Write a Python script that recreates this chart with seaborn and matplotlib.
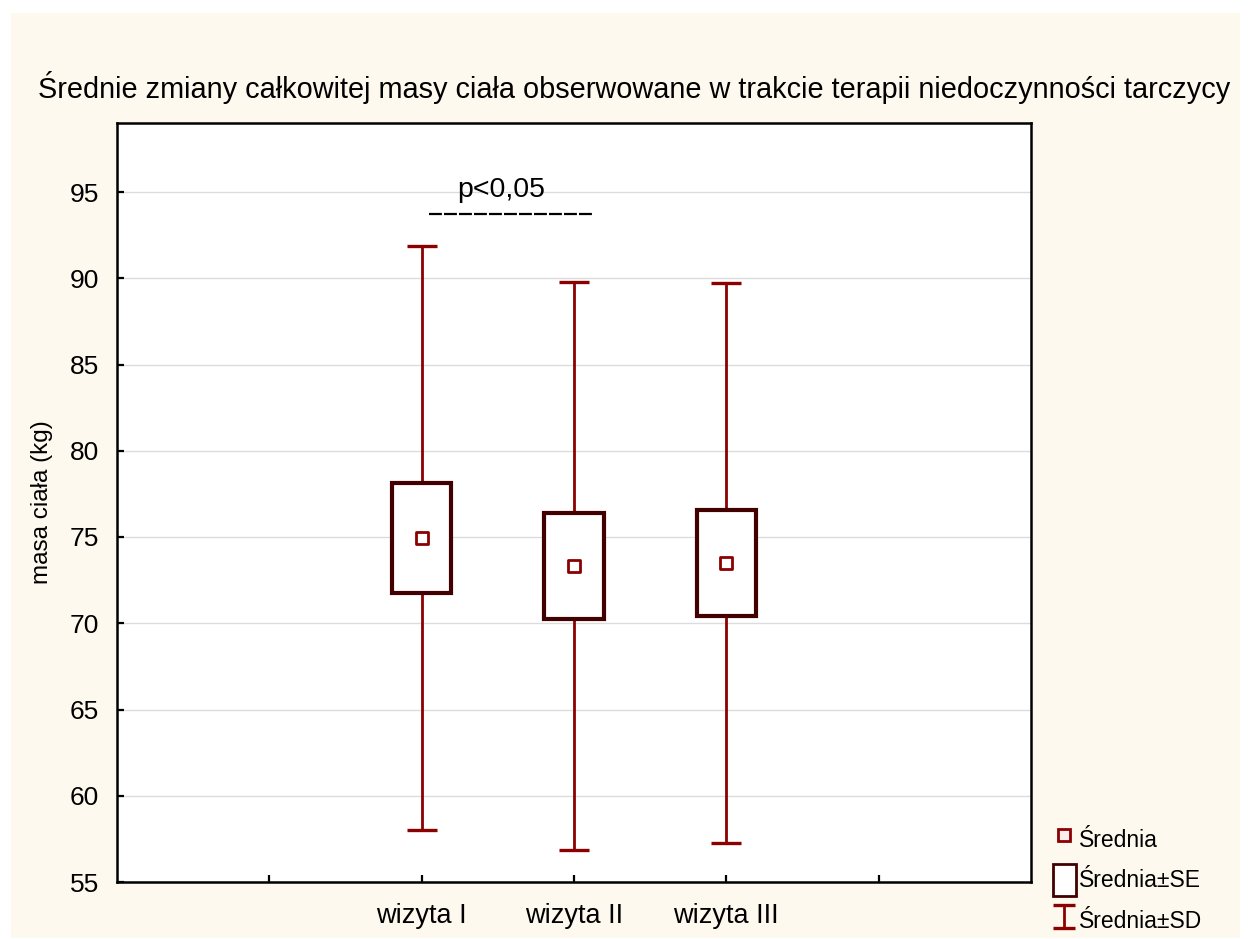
import matplotlib
matplotlib.use("Agg")
import matplotlib.pyplot as plt
import matplotlib.patches as mpatches
from matplotlib.lines import Line2D
import numpy as np
import pandas as pd
import seaborn as sns

# Body mass (kg) at three visits: mean, standard error, standard deviation
visits = ["wizyta I", "wizyta II", "wizyta III"]
mean = [74.94, 73.32, 73.49]
se = [3.19, 3.10, 3.05]
sd = [16.92, 16.45, 16.23]
slots = ["", "wizyta I", "wizyta II", "wizyta III", ""]
yticks = [55, 60, 65, 70, 75, 80, 85, 90, 95]

title = "Średnie zmiany całkowitej masy ciała obserwowane w trakcie terapii niedoczynności tarczycy"
ylabel = "masa ciała (kg)"
sig_text = "p<0,05"

sns.set_theme(style="white")
plt.rcParams["font.family"] = ["Liberation Sans", "DejaVu Sans"]
plt.rcParams["text.color"] = "black"
plt.rcParams["xtick.color"] = "black"
plt.rcParams["ytick.color"] = "black"
plt.rcParams["axes.labelcolor"] = "black"

WHISK = "#8b0000"
BOX = "#420000"
CREAM = "#fdf9ee"

fig = plt.figure(figsize=(12.5, 9.39), dpi=100)
fig.patch.set_facecolor("white")
fig.patches.append(mpatches.Rectangle((11 / 1250, 1 - 938 / 939), 1229 / 1250, 925 / 939,
                                      transform=fig.transFigure, facecolor=CREAM,
                                      edgecolor="none", zorder=-10))

ax = fig.add_axes([117 / 1250, 1 - 882 / 939, 914 / 1250, 759 / 939])
ax.set_facecolor("white")

df = pd.DataFrame({"visit": visits, "mean": mean, "se": se, "sd": sd})
df["pos"] = [slots.index(v) + 1 for v in df["visit"]]

# SD whiskers
eb = ax.errorbar(df["pos"], df["mean"], yerr=df["sd"], fmt="none", ecolor=WHISK,
                 elinewidth=2.0, capsize=11, capthick=2.4, zorder=2)
# SE boxes
ax.bar(df["pos"], 2 * df["se"], bottom=df["mean"] - df["se"], width=0.39,
       facecolor="white", edgecolor=BOX, linewidth=3.0, zorder=3)
# means
sns.scatterplot(data=df, x="pos", y="mean", marker="s", s=80, color="white",
                edgecolor=WHISK, linewidth=2.0, zorder=4, ax=ax, legend=False)

ax.set_xlim(0, 6)
ax.set_ylim(55, 99)
ax.set_xticks(range(1, 6))
ax.set_xticklabels(slots, fontsize=19.5)
ax.set_yticks(yticks)
ax.set_yticklabels([str(v) for v in yticks], fontsize=19)
ax.yaxis.grid(True, color="#dcdcdc", linewidth=1)
ax.set_axisbelow(True)
ax.tick_params(axis="both", direction="in", length=5, width=1.6,
               bottom=True, left=True)
ax.tick_params(axis="y", pad=13)
ax.tick_params(axis="x", pad=15)
for s in ax.spines.values():
    s.set_color("black")
    s.set_linewidth(1.8)
ax.set_xlabel("")
ax.set_ylabel(ylabel, fontsize=17.5, labelpad=12)

fig.text(634 / 1250, 1 - 88 / 939, title, ha="center", va="center", fontsize=20.8)

# significance marker between visit I and visit II
ax.text(2.52, 95.1, sig_text, ha="center", va="center", fontsize=20.5)
ax.plot([2.05, 3.13], [93.7, 93.7], color="black", linewidth=1.6,
        dashes=(5.8, 0.95), zorder=5)

# legend-only errorbar handle with narrower caps
eb_leg = ax.errorbar([np.nan], [np.nan], yerr=[1.0], fmt="none", ecolor=WHISK,
                     elinewidth=2.0, capsize=8, capthick=2.4)
handles = [
    Line2D([], [], linestyle="none", marker="s", markersize=9, markerfacecolor="#fbeeee",
           markeredgecolor=WHISK, markeredgewidth=2.0),
    mpatches.Rectangle((0, 0), 1, 1, facecolor="white", edgecolor=BOX, linewidth=2.0),
    eb_leg,
]
fig.legend(handles, ["Średnia", "Średnia±SE", "Średnia±SD"], loc="upper left",
           bbox_to_anchor=(1037 / 1250, 1 - 807 / 939), frameon=False, fontsize=16.5,
           handlelength=1.0, handleheight=1.8, handletextpad=0.15, labelspacing=0.36,
           borderpad=0.2)

fig.savefig("out.png", dpi=100, facecolor=fig.get_facecolor())
